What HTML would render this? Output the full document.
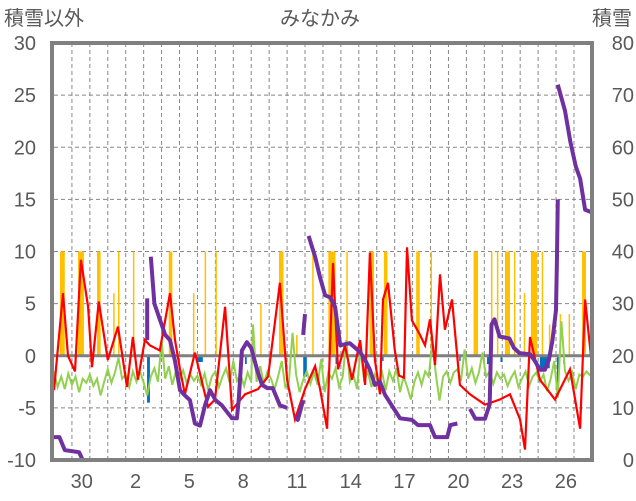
<!DOCTYPE html>
<html><head><meta charset="utf-8">
<style>
html,body{margin:0;padding:0;background:#fff;}
svg{display:block;font-family:"Liberation Sans","Noto Sans CJK JP",sans-serif;}
</style></head>
<body>
<svg id="chart" width="636" height="501" viewBox="0 0 636 501" xmlns="http://www.w3.org/2000/svg">
<text x="4" y="25" font-size="20" fill="#595959">積雪以外</text>
<text x="320" y="25" font-size="20" fill="#595959" text-anchor="middle">みなかみ</text>
<text x="632" y="25" font-size="20" fill="#595959" text-anchor="end">積雪</text>
<g id="grid"></g><g id="bars"></g><g id="lines"></g><g id="axes"></g>
</svg>
<script>
const leftTicks=[30,25,20,15,10,5,0,-5,-10];
const rightTicks=[80,70,60,50,40,30,20,10,0];
const dayLabels=["30","2","5","8","11","14","17","20","23","26"];
const dayLabelPos=[1,4,7,10,13,16,19,22,25,28];
const redDays=[0,0.5,0.78,1.17,1.5,1.9,2.12,2.5,3.0,3.57,4.07,4.4,4.68,5.07,5.35,5.9,6.47,6.75,7.03,7.3,7.86,8.59,8.98,9.54,9.93,10.65,11.38,11.94,12.6,13.0,13.44,14.0,14.56,14.84,15.23,15.56,15.84,16.23,16.62,17.07,17.35,17.62,17.9,18.18,18.35,18.63,19.0,19.24,19.52,19.69,19.96,20.41,20.69,20.97,21.25,21.53,21.8,22.2,22.64,23.2,24.04,24.87,25.43,25.99,26.27,26.55,27.1,27.94,28.78,29.34,29.62,30];
const redVals=[-3.3,6,0,-1.5,9.2,4.7,-1.1,5.2,-0.4,2.8,-3,1.8,-2.3,1.5,1,0.5,6,1.5,-1.3,-3.7,0.3,-4.9,-4.2,4.7,-5.2,-3.7,-3.2,-2,7,-2.3,-6.1,-3.2,-1,-3.2,-7,8.9,-1.3,1,-2.3,1.5,-2.8,9.9,-0.4,-3.7,5.4,7,0.6,-1.9,-2.1,10.4,3.4,2,1,3.5,-0.9,7.8,2.5,5.4,-2.8,-3.7,-4.7,-4.2,-3.7,-6.1,-9,1.8,-2.3,-4.2,-1.3,-7,5.4,-0.9];
const greenDays=[0,0.2,0.4,0.6,0.8,1.0,1.2,1.4,1.6,1.8,2.0,2.2,2.4,2.6,2.8,3.0,3.2,3.4,3.6,3.8,4.0,4.2,4.4,4.6,4.8,5.0,5.2,5.4,5.6,5.8,6.0,6.2,6.4,6.6,6.8,7.0,7.2,7.4,7.6,7.8,8.0,8.2,8.4,8.6,8.8,9.0,9.2,9.4,9.6,9.8,10.0,10.2,10.4,10.6,10.8,11.0,11.1,11.3,11.5,11.7,11.9,12.1,12.3,12.5,12.7,12.9,13.1,13.3,13.5,13.7,13.9,14.1,14.3,14.5,14.7,14.9,15.1,15.3,15.5,15.7,15.9,16.1,16.3,16.5,16.7,16.9,17.1,17.3,17.5,17.7,17.9,18.1,18.3,18.5,18.7,18.9,19.1,19.3,19.5,19.7,19.9,20.1,20.3,20.5,20.7,20.9,21.1,21.3,21.5,21.7,21.9,22.1,22.3,22.5,22.7,22.9,23.1,23.3,23.5,23.7,23.9,24.1,24.3,24.5,24.7,24.9,25.1,25.3,25.5,25.7,25.9,26.1,26.3,26.5,26.7,26.9,27.1,27.3,27.5,27.7,27.9,28.1,28.3,28.5,28.7,28.9,29.1,29.3,29.5,29.7,29.9];
const greenVals=[-1.5,-3,-2,-3.2,-1.7,-2.8,-2,-3.5,-2.2,-2.6,-1.8,-2.9,-2.2,-3.8,-2.5,-1.3,-2.6,-1.6,-0.2,-2.2,-1.8,-3,-1.5,-2.5,-1.5,-2.6,-3.8,-2,-1.2,-2.5,1.5,-2.2,-1,-2.8,-1.5,-2.3,-1.4,-2.6,-1.8,-2.4,-1.9,-2.8,-1.7,-3.3,-2,-1.5,-3,-2,-1.2,-2.6,-0.5,-2.4,-1.8,-2.9,-1.6,-2.5,3,-2.5,-1,-2.7,-1.5,-2.2,-3.2,-2,-0.5,-3,-2.5,2.2,-1.8,-3.5,-2.3,-1.5,-2.7,-1.6,-2.8,-0.3,-3.5,-1.6,-2.2,-1.2,-3,-2,1.5,-2.5,-1.8,-3.2,0.8,-2.5,-1.5,-3,-1.8,-2.6,-1.6,-3.3,-1.5,-2.4,-1.2,-3.5,-2,-3,-4.2,-2.5,-1.6,-2.8,-1.5,-2,1.3,-1.8,-4.3,-2,-1.5,-2.6,-1.6,-1.3,-2.4,0.6,-2.2,-1.2,-2.6,-1.6,0.3,-2,-1.5,-2.7,-1.6,-2.2,-1.8,-2.9,-2.1,-1.5,-3,-2.2,-1.5,-2.9,-2,-1.6,-2.5,-1.8,-3.4,-2.2,-0.5,-4,3.3,-1.5,-2.4,-1.6,-3.2,-1.8,-2,-1.5,-1.9];
const snowDays=[0,0.3,0.6,1.4,1.6,2.0,3.0,4.0,4.95,null,5.2,5.2,null,5.4,5.6,5.9,6.2,6.47,6.75,7.03,7.3,7.58,7.86,8.14,8.42,8.7,9.0,9.36,9.93,10.2,10.3,10.48,10.76,11.0,11.33,11.6,11.9,12.2,12.6,13.0,null,13.5,13.6,13.9,null,13.9,14.0,null,14.2,14.56,14.84,15.12,15.4,15.68,15.96,16.5,17.07,17.35,17.62,17.9,18.18,18.46,18.74,19.0,19.3,19.96,20.3,20.97,21.25,21.93,22.1,22.5,null,23.2,23.5,24.04,24.3,24.4,24.57,24.85,25.4,25.65,25.96,26.55,26.82,27.1,27.38,27.6,27.8,28.0,28.05,28.1,null,28.1,28.5,28.8,29.1,29.34,29.62,30];
const snowVals=[4.4,4.4,1.9,1.5,0,0,0,0,0,null,23,31,null,39,30,27,24,23,19,13.4,12.4,11.5,7,6.6,10.5,13.4,11.5,10.5,8,8,11.5,21,22.6,21.5,17.3,14.4,13.8,13.8,10.5,10,null,8.6,7.7,11.5,null,24,28,null,43,39,35,31.6,31.2,29.4,22,22.4,20.7,19.2,17.3,14.4,15,12.5,11,9.6,8,7.7,6.7,6.7,4.4,4.4,6.7,7,null,9.8,7.9,7.9,10.7,26,27,23.7,23.3,21.5,20.5,20.3,19,17.3,17.3,19.2,23,28.8,38,50,null,72,67,61,56.3,54,48,47.5];
const rainStart=[0.33,1.34,2.4,3.3,3.57,4.4,6.4,7.75,8.4,9.0,11.5,12.55,13.5,14.4,15.3,16.3,17.6,18.4,20.2,21.0,23.4,24.37,24.7,25.15,25.65,26.2,26.6,27.2,27.6,28.2,28.7,29.45];
const rainEnd=[0.6,1.67,2.6,3.38,3.65,4.48,6.6,7.83,8.48,9.08,11.56,12.8,13.56,14.48,15.7,16.38,17.85,18.6,20.4,21.08,23.65,24.45,24.78,25.43,25.73,26.28,26.95,27.28,27.66,28.28,28.78,29.67];
const rainVals=[10,10,10,6,10,10,10,6,10,10,5,10,2,10,10,10,10,10,10,10,10,10,10,10,10,6,10,10,3,4,4,10];
const negStart=[5.19,7.98,10.65,13.9,15.7,18.3,22.6,24.15,24.9,27.1,28.05,28.4];
const negEnd=[5.35,8.3,10.75,14.1,15.8,18.38,22.68,24.4,25.0,27.65,28.15,28.5];
const negVals=[-4.5,-0.6,-0.8,-2,-0.8,-0.5,-0.5,-0.8,-0.6,-1.2,-4,-0.8];

const X0=54, DX=17.93, YT=43, YB=460;
function xS(d){return X0+d*DX;}
function yL(v){return YB-(v+10)*(YB-YT)/40;}
function yR(v){return YB-v*(YB-YT)/80;}
const NS="http://www.w3.org/2000/svg";
function mk(tag,parent,attrs){const e=document.createElementNS(NS,tag);for(const k in attrs)e.setAttribute(k,attrs[k]);parent.appendChild(e);return e;}
const grid=document.getElementById('grid'),bars=document.getElementById('bars'),lines=document.getElementById('lines'),axes=document.getElementById('axes');

for(let d=1;d<30;d++){
  const l=mk('line',grid,{x1:xS(d),x2:xS(d),y1:YT,y2:YB,stroke:'#888','stroke-width':1,'stroke-dasharray':'4,3'});
  
  
}
leftTicks.forEach(v=>{
  if(v!==30&&v!==-10&&v!==0){
    const l=mk('line',grid,{x1:X0,x2:592,y1:yL(v),y2:yL(v),stroke:'#888','stroke-width':1,'stroke-dasharray':'4,3'});
    
    
  }
  const t=mk('text',axes,{x:36,y:yL(v)+7,'font-size':20,fill:'#595959','text-anchor':'end'});
  t.textContent=v;
  
  
});
rightTicks.forEach(v=>{
  const t=mk('text',axes,{x:634,y:yR(v)+7,'font-size':20,fill:'#595959','text-anchor':'end'});
  t.textContent=v;
  
  
});
dayLabels.forEach((s,i)=>{
  const t=mk('text',axes,{x:xS(dayLabelPos[i]+0.55),y:488,'font-size':20,fill:'#595959','text-anchor':'middle'});
  t.textContent=s;
  
  
});
rainVals.forEach((v,i)=>{
  const r=mk('rect',bars,{x:xS(rainStart[i]),y:yL(v),width:Math.max(1.5,xS(rainEnd[i])-xS(rainStart[i])),height:yL(0)-yL(v),fill:'#FFC000'});
  
  
});
negVals.forEach((v,i)=>{
  const r=mk('rect',bars,{x:xS(negStart[i]),y:yL(0),width:Math.max(1.5,xS(negEnd[i])-xS(negStart[i])),height:yL(v)-yL(0),fill:'#0070C0'});
  
  
});
function path(days,vals,ys){let d='',pen=false;for(let i=0;i<days.length;i++){if(days[i]===null||vals[i]===null){pen=false;continue;}d+=(pen?'L':'M')+xS(days[i]).toFixed(1)+','+ys(vals[i]).toFixed(1);pen=true;}return d;}
const zl=mk('line',lines,{x1:X0,x2:592,y1:yL(0),y2:yL(0),stroke:'#7f7f7f','stroke-width':3});


const g=mk('path',lines,{d:path(greenDays,greenVals,yL),fill:'none',stroke:'#92D050','stroke-width':2});


const r=mk('path',lines,{d:path(redDays,redVals,yL),fill:'none',stroke:'#FF0000','stroke-width':2.2});


const p=mk('path',lines,{d:path(snowDays,snowVals,yR),fill:'none',stroke:'#7030A0','stroke-width':4,'stroke-linejoin':'round'});


const f=mk('rect',axes,{x:52,y:43,width:540,height:417,fill:'none',stroke:'#808080','stroke-width':4});


</script>
</body></html>
